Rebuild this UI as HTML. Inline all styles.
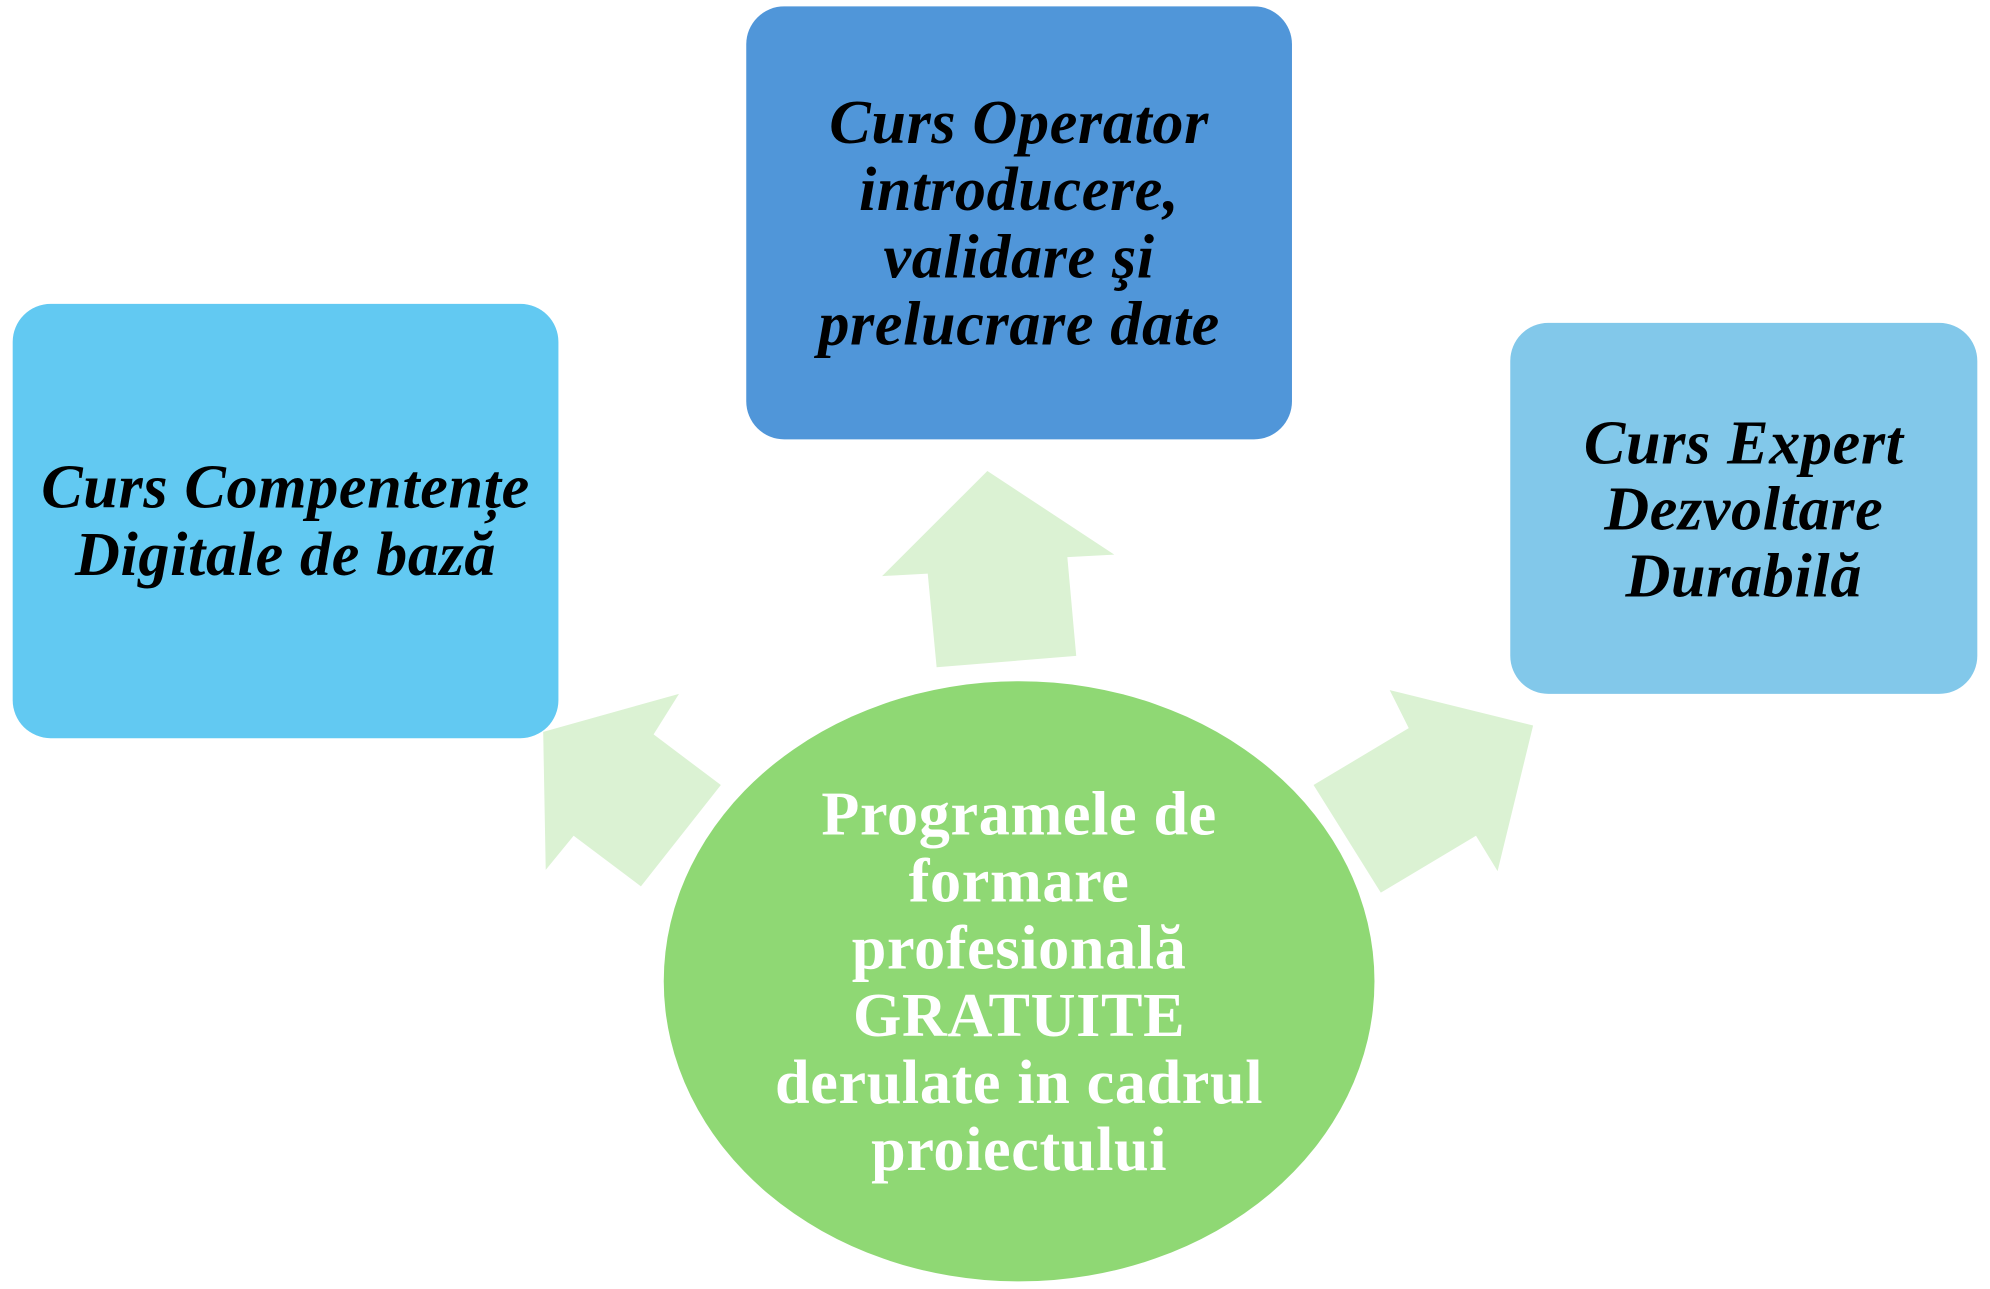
<!DOCTYPE html>
<html><head><meta charset="utf-8"><style>
html,body{margin:0;padding:0;background:#fff;}
svg{display:block;}
.t{font-family:"Liberation Serif",serif;font-weight:bold;font-style:italic;font-size:49px;letter-spacing:0.5px;fill:#000;text-anchor:middle;}
.c{font-family:"Liberation Serif",serif;font-weight:bold;font-size:49px;letter-spacing:0.5px;fill:#fff;text-anchor:middle;}
</style></head><body>
<svg width="1990" height="1289" viewBox="0 0 1568 1018" preserveAspectRatio="none" xmlns="http://www.w3.org/2000/svg">
<rect x="10" y="240" width="430" height="343" rx="30" fill="#62c9f2"/>
<rect x="588" y="5" width="430" height="342" rx="30" fill="#5096d9"/>
<rect x="1190" y="255" width="368" height="293" rx="30" fill="#82c8ea"/>
<polygon points="738,527 848,518 841,440 878,438 778,372 695,455 731,453" fill="#dbf2d3"/>
<polygon points="505,700 568,620 515,580 535,548 428,578 430,687 452,660" fill="#dbf2d3"/>
<polygon points="1035,620 1088,705 1163,660 1180,688 1208,573 1095,545 1110,575" fill="#dbf2d3"/>
<ellipse cx="803" cy="775" rx="280" ry="237" fill="#8fd874"/>
<text class="t" x="803" y="113">Curs Operator</text>
<text class="t" x="803" y="166">introducere,</text>
<text class="t" x="803" y="219">validare şi</text>
<text class="t" x="803" y="272">prelucrare date</text>
<text class="t" x="225" y="401">Curs Compentențe</text>
<text class="t" x="225" y="454">Digitale de bază</text>
<text class="t" x="1374" y="366">Curs Expert</text>
<text class="t" x="1374" y="418">Dezvoltare</text>
<text class="t" x="1374" y="471">Durabilă</text>
<text class="c" x="803" y="659">Programele de</text>
<text class="c" x="803" y="712">formare</text>
<text class="c" x="803" y="765">profesională</text>
<text class="c" x="803" y="818">GRATUITE</text>
<text class="c" x="803" y="871">derulate in cadrul</text>
<text class="c" x="803" y="924">proiectului</text>
</svg>
</body></html>
